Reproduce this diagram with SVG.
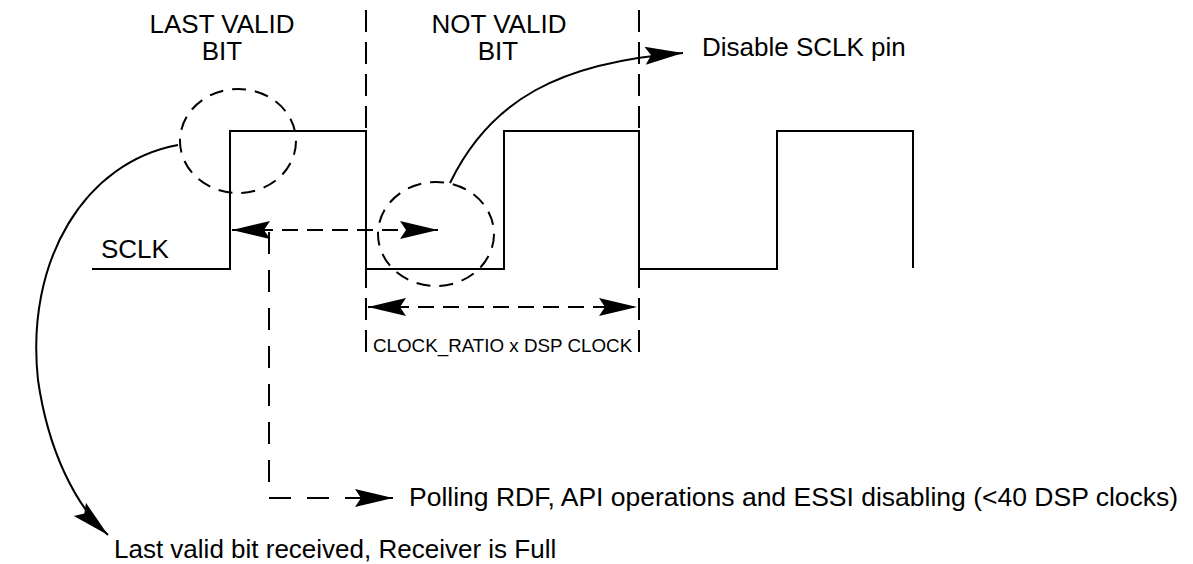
<svg xmlns="http://www.w3.org/2000/svg" width="1193" height="564" viewBox="0 0 1193 564">
<style>
.t{font-family:"Liberation Sans",Arial,sans-serif;fill:#000}
.s{fill:none;stroke:#000;stroke-width:2}
.d{fill:none;stroke:#000;stroke-width:2;stroke-dasharray:22 10}
.c{fill:none;stroke:#000;stroke-width:2;stroke-dasharray:14 9}
</style>
<defs>
<marker id="ah" markerUnits="userSpaceOnUse" markerWidth="40" markerHeight="20" refX="38" refY="9" orient="auto-start-reverse">
<path d="M0,0 L38,9 L0,18 L6,9 Z" fill="#000"/>
</marker>
</defs>
<rect width="1193" height="564" fill="#fff"/>
<g id="sclk">
<path class="s" d="M92,269 H230 V131 H366 V269 H504 V131 H639 V269 H777 V131 H913 V268"/>
<text class="t" x="101" y="258" font-size="26">SCLK</text>
</g>
<g id="boundaries">
<line class="d" x1="366" y1="10" x2="366" y2="358"/>
<line class="d" x1="639" y1="10" x2="639" y2="358"/>
</g>
<g id="labels">
<text class="t" x="222" y="33" font-size="26" text-anchor="middle">LAST VALID</text>
<text class="t" x="222" y="60" font-size="26" text-anchor="middle">BIT</text>
<text class="t" x="499" y="33" font-size="26" text-anchor="middle">NOT VALID</text>
<text class="t" x="498" y="60" font-size="26" text-anchor="middle">BIT</text>
<text class="t" x="702" y="56" font-size="26">Disable SCLK pin</text>
<text class="t" x="373" y="352" font-size="18.8">CLOCK_RATIO x DSP CLOCK</text>
<text class="t" x="409" y="506" font-size="26.5">Polling RDF, API operations and ESSI disabling (&lt;40 DSP clocks)</text>
<text class="t" x="114" y="558" font-size="26">Last valid bit received, Receiver is Full</text>
</g>
<g id="circles">
<ellipse class="c" cx="238" cy="141" rx="58" ry="52"/>
<ellipse class="c" cx="436" cy="234" rx="58" ry="52"/>
</g>
<g id="connectors">
<line class="d" style="stroke-dasharray:16 9" x1="232" y1="230" x2="438" y2="230" marker-start="url(#ah)" marker-end="url(#ah)"/>
<line class="d" style="stroke-dasharray:16 9" x1="368" y1="307" x2="637" y2="307" marker-start="url(#ah)" marker-end="url(#ah)"/>
<path class="d" style="stroke-dasharray:22 16" d="M269,232 V498 H393" marker-end="url(#ah)"/>
<path class="s" d="M450,183 C490,100 560,62 683,53" marker-end="url(#ah)"/>
<path class="s" d="M178,145 C85,162 25,260 38,380 C48,450 75,505 108,535" marker-end="url(#ah)"/>
</g>
</svg>
